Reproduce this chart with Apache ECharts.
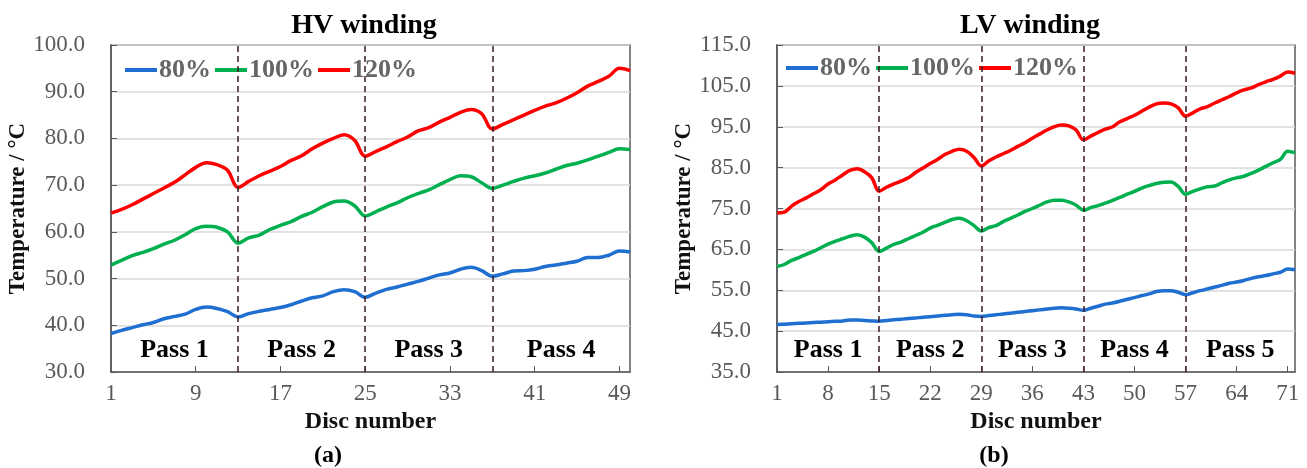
<!DOCTYPE html>
<html>
<head>
<meta charset="utf-8">
<script src="https://cdn.jsdelivr.net/npm/echarts@6/dist/echarts.min.js"></script>
<style>html,body{margin:0;padding:0;background:#fff;}#c{width:1307px;height:468px;}</style>
</head>
<body>
<div id="c"></div>
<script>
// ---------- DATA ----------
const hvDiscs = Array.from({length: 50}, (_, i) => String(i + 1));
const lvDiscs = Array.from({length: 72}, (_, i) => String(i + 1));
const seriesNames = ['80%', '100%', '120%'];

const hv80 = [38.2,38.9,39.5,40.1,40.6,41.4,41.9,42.4,43.4,43.9,43.6,42.9,41.8,42.5,43.0,43.4,43.8,44.4,45.2,45.9,46.3,47.2,47.6,47.2,46.0,46.9,47.7,48.2,48.8,49.4,50.1,50.8,51.2,52.0,52.4,51.7,50.5,51.0,51.6,51.7,52.0,52.6,52.9,53.3,53.7,54.5,54.5,55.0,55.9,55.7];
const hv100 = [52.9,53.9,54.9,55.6,56.4,57.4,58.2,59.4,60.7,61.2,61.0,60.0,57.6,58.7,59.3,60.5,61.4,62.2,63.3,64.2,65.4,66.4,66.6,65.6,63.4,64.3,65.3,66.2,67.3,68.2,69.0,70.1,71.2,72.0,71.8,70.5,69.3,70.0,70.8,71.5,72.0,72.6,73.4,74.2,74.7,75.4,76.2,77.0,77.8,77.6];
const hv120 = [64.0,64.8,65.8,67.0,68.2,69.4,70.6,72.2,73.8,74.8,74.4,73.2,69.5,70.8,72.0,73.0,74.0,75.3,76.3,77.8,79.0,80.0,80.8,79.6,76.2,77.2,78.2,79.3,80.3,81.6,82.3,83.5,84.5,85.6,86.2,85.3,82.0,83.0,84.0,85.0,86.0,86.9,87.6,88.6,89.8,91.2,92.2,93.3,95.0,94.5];

const lv80 = [46.6,46.7,46.8,46.9,47.0,47.1,47.2,47.3,47.4,47.5,47.7,47.7,47.6,47.5,47.4,47.6,47.8,47.9,48.1,48.2,48.4,48.5,48.7,48.9,49.0,49.1,49.0,48.7,48.6,48.8,49.0,49.2,49.4,49.6,49.8,50.0,50.2,50.4,50.6,50.7,50.6,50.4,50.1,50.6,51.1,51.6,51.9,52.3,52.8,53.2,53.7,54.1,54.7,54.9,54.9,54.5,53.9,54.4,54.9,55.3,55.8,56.2,56.7,57.0,57.4,57.9,58.3,58.6,59.0,59.4,60.2,60.0];
const lv100 = [60.8,61.3,62.3,63.0,63.8,64.5,65.4,66.3,67.0,67.6,68.2,68.6,68.0,66.6,64.5,65.3,66.2,66.8,67.6,68.4,69.2,70.2,70.9,71.6,72.3,72.6,72.0,70.8,69.5,70.3,70.8,71.8,72.6,73.4,74.3,75.0,75.8,76.6,77.0,77.0,76.6,75.8,74.6,75.2,75.7,76.3,77.0,77.7,78.5,79.2,80.0,80.6,81.1,81.4,81.5,80.4,78.5,79.2,79.8,80.3,80.5,81.3,82.0,82.5,82.9,83.6,84.4,85.3,86.2,87.0,89.0,88.6];
const lv120 = [73.9,74.1,75.6,76.7,77.6,78.6,79.6,81.0,82.0,83.2,84.3,84.7,84.0,82.5,79.2,80.2,81.0,81.7,82.5,83.8,84.9,86.0,87.0,88.2,89.0,89.5,89.0,87.5,85.4,86.6,87.6,88.4,89.2,90.2,91.1,92.2,93.2,94.2,95.0,95.4,95.2,94.2,91.8,92.7,93.6,94.4,95.0,96.2,97.0,97.8,98.8,99.8,100.6,100.8,100.6,99.6,97.6,98.4,99.4,99.9,100.8,101.6,102.4,103.3,104.0,104.5,105.3,106.0,106.6,107.4,108.4,108.1];

const hvPassBounds = ['1','13','25','37','50'];
const lvPassBounds = ['1','15','29','43','57','72'];
const hvPassNames = ['Pass 1','Pass 2','Pass 3','Pass 4'];
const lvPassNames = ['Pass 1','Pass 2','Pass 3','Pass 4','Pass 5'];
const hvYTicks = {min: 30, max: 100, interval: 10};
const lvYTicks = {min: 35, max: 115, interval: 10};
const titles = ['HV winding', 'LV winding'];
const captions = ['a', 'b'];

// ---------- CHART ----------
const colors = ['#1f6fd1', '#00b04f', '#ff0000'];
const FONT = '"Liberation Serif", "Times New Roman", serif';
const grids = [
  {left: 111, top: 45, width: 519, height: 327},
  {left: 777, top: 45, width: 518, height: 327}
];

function xAxis(idx, data, every) {
  return {
    type: 'category', gridIndex: idx, data: data, boundaryGap: false,
    name: 'Disc number', nameLocation: 'middle', nameGap: 32,
    nameTextStyle: {fontFamily: FONT, fontWeight: 'bold', fontSize: 24, color: '#111'},
    axisLine: {lineStyle: {color: '#595959', width: 1.5}},
    axisTick: {inside: true, interval: every - 1, length: 6, lineStyle: {color: '#595959'}},
    axisLabel: {interval: every - 1, fontFamily: FONT, fontSize: 23, color: '#595959', margin: 10},
    splitLine: {show: false}
  };
}
function yAxis(idx, t) {
  return {
    type: 'value', gridIndex: idx, min: t.min, max: t.max, interval: t.interval,
    name: 'Temperature / °C', nameLocation: 'middle', nameGap: 78, nameRotate: 90,
    nameTextStyle: {fontFamily: FONT, fontWeight: 'bold', fontSize: 23, color: '#111'},
    axisLine: {show: true, lineStyle: {color: '#595959', width: 1.5}},
    axisTick: {show: true, inside: true, length: 6, lineStyle: {color: '#595959'}},
    axisLabel: {formatter: v => v.toFixed(1), fontFamily: FONT, fontSize: 23, color: '#595959', margin: 26},
    splitLine: {lineStyle: {color: '#d9d9d9', width: 1.5}}
  };
}
function dashLines(bounds) {
  return {
    symbol: 'none', silent: true, label: {show: false},
    lineStyle: {type: [6, 4], color: '#3a1d22', width: 1.5},
    data: bounds.slice(1, -1).map(b => ({xAxis: b}))
  };
}
function passAreas(bounds, names) {
  return {
    silent: true,
    itemStyle: {color: 'rgba(0,0,0,0)'},
    label: {show: true, position: 'insideBottom', distance: 9, fontFamily: FONT, fontWeight: 'bold', fontSize: 26, color: '#000'},
    data: names.map((n, i) => [{name: n, xAxis: bounds[i]}, {xAxis: bounds[i + 1]}])
  };
}
function line(name, idx, data, color, extra) {
  return Object.assign({
    name: name, type: 'line', xAxisIndex: idx, yAxisIndex: idx, data: data,
    smooth: 0.35, showSymbol: false, symbol: 'none',
    lineStyle: {color: color, width: 3.5}, itemStyle: {color: color}, z: 3
  }, extra || {});
}

const legendCommon = {
  data: seriesNames, icon: 'rect', itemWidth: 32, itemHeight: 4, itemGap: 4,
  textStyle: {fontFamily: FONT, fontWeight: 'bold', fontSize: 26, color: '#666', padding: [0, 0, 0, -3]}
};
const titleStyle = {fontFamily: FONT, fontWeight: 'bold', fontSize: 28, color: '#000'};
const capStyle = {fontFamily: FONT, fontSize: 24, color: '#000', rich: {b: {fontFamily: FONT, fontWeight: 'bold', fontSize: 24, color: '#000'}}};

const option = {
  animation: false,
  backgroundColor: '#fff',
  title: [
    {text: titles[0], left: 359, top: 7, textAlign: 'center', textStyle: titleStyle},
    {text: titles[1], left: 1025, top: 7, textAlign: 'center', textStyle: titleStyle},
    {text: '({b|' + captions[0] + '})', left: 323, top: 439, textAlign: 'center', textStyle: capStyle},
    {text: '(' + captions[1] + ')', left: 989, top: 439, textAlign: 'center', textStyle: capStyle}
  ],
  legend: [
    Object.assign({left: 125, top: 57, padding: 0}, legendCommon),
    Object.assign({left: 786, top: 55, padding: 0}, legendCommon)
  ],
  grid: grids.map(g => Object.assign({show: true, borderColor: '#595959', borderWidth: 1.5, backgroundColor: 'rgba(0,0,0,0)'}, g)),
  xAxis: [xAxis(0, hvDiscs, 8), xAxis(1, lvDiscs, 7)],
  yAxis: [yAxis(0, hvYTicks), yAxis(1, lvYTicks)],
  series: [
    line(seriesNames[0], 0, hv80, colors[0], {markLine: dashLines(hvPassBounds)}),
    line(seriesNames[1], 0, hv100, colors[1]),
    line(seriesNames[2], 0, hv120, colors[2], {markArea: passAreas(hvPassBounds, hvPassNames)}),
    line(seriesNames[0], 1, lv80, colors[0], {markLine: dashLines(lvPassBounds)}),
    line(seriesNames[1], 1, lv100, colors[1]),
    line(seriesNames[2], 1, lv120, colors[2], {markArea: passAreas(lvPassBounds, lvPassNames)})
  ]
};
const chart = echarts.init(document.getElementById('c'), null, {renderer: 'canvas'});
chart.setOption(option);
</script>
</body>
</html>
